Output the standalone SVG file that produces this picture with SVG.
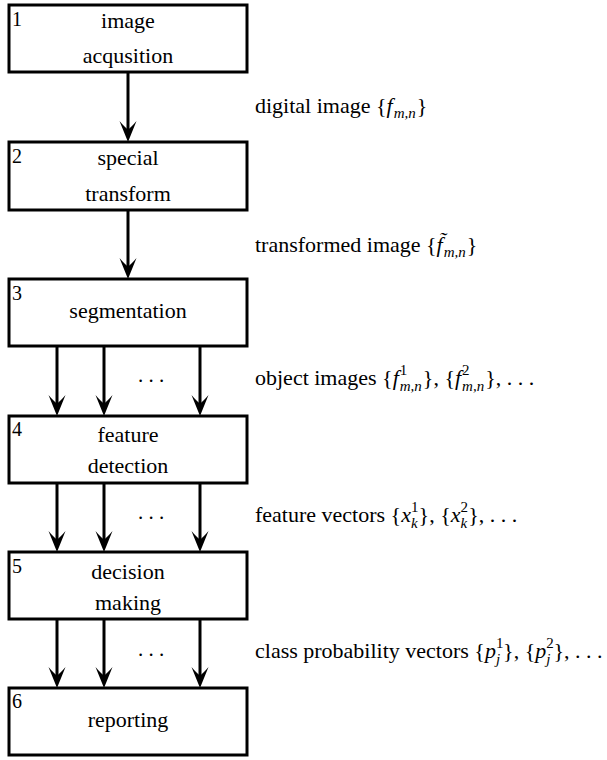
<svg xmlns="http://www.w3.org/2000/svg" xmlns:xlink="http://www.w3.org/1999/xlink" width="607" height="760" viewBox="0 0 607 760" font-family="Liberation Serif, DejaVu Serif, serif">
  <style>
    .box { fill: #ffffff; stroke: #000000; stroke-width: 3; }
    .num { font-size: 20px; }
    .lbl { font-size: 22px; text-anchor: middle; }
    .side { font-size: 22px; }
    .it { font-style: italic; }
    .sc { font-size: 15px; }
    .wire { stroke: #000000; stroke-width: 3; fill: none; }
    .dots { font-size: 21px; text-anchor: middle; }
  </style>
  <defs>
    <!-- concave arrowhead, tip at origin, pointing down -->
    <path id="head" d="M0,0 L-8.5,-21 Q-3,-14.5 0,-12.5 Q3,-14.5 8.5,-21 Z" fill="#000"/>
  </defs>

  <rect width="607" height="760" fill="#ffffff"/>

  <!-- connectors -->
  <g id="connectors">
    <line class="wire" x1="128" y1="72" x2="128" y2="131"/>
    <use xlink:href="#head" x="128" y="142"/>

    <line class="wire" x1="128" y1="210" x2="128" y2="268"/>
    <use xlink:href="#head" x="128" y="279"/>

    <line class="wire" x1="57" y1="346" x2="57" y2="405"/>
    <line class="wire" x1="104" y1="346" x2="104" y2="405"/>
    <line class="wire" x1="200" y1="346" x2="200" y2="405"/>
    <use xlink:href="#head" x="57" y="416"/>
    <use xlink:href="#head" x="104" y="416"/>
    <use xlink:href="#head" x="200" y="416"/>
    <text class="dots" x="151" y="382">. . .</text>

    <line class="wire" x1="57" y1="483" x2="57" y2="541"/>
    <line class="wire" x1="104" y1="483" x2="104" y2="541"/>
    <line class="wire" x1="200" y1="483" x2="200" y2="541"/>
    <use xlink:href="#head" x="57" y="552"/>
    <use xlink:href="#head" x="104" y="552"/>
    <use xlink:href="#head" x="200" y="552"/>
    <text class="dots" x="151" y="519">. . .</text>

    <line class="wire" x1="57" y1="619" x2="57" y2="677"/>
    <line class="wire" x1="104" y1="619" x2="104" y2="677"/>
    <line class="wire" x1="200" y1="619" x2="200" y2="677"/>
    <use xlink:href="#head" x="57" y="688"/>
    <use xlink:href="#head" x="104" y="688"/>
    <use xlink:href="#head" x="200" y="688"/>
    <text class="dots" x="151" y="656">. . .</text>
  </g>

  <!-- stage boxes -->
  <g id="stage1">
    <rect class="box" x="9" y="5" width="238" height="67"/>
    <text class="num" x="12" y="26">1</text>
    <text class="lbl" x="128" y="28">image</text>
    <text class="lbl" x="128" y="63">acqusition</text>
  </g>
  <g id="stage2">
    <rect class="box" x="9" y="142" width="238" height="68"/>
    <text class="num" x="12" y="163">2</text>
    <text class="lbl" x="128" y="165">special</text>
    <text class="lbl" x="128" y="201">transform</text>
  </g>
  <g id="stage3">
    <rect class="box" x="9" y="279" width="238" height="67"/>
    <text class="num" x="12" y="300">3</text>
    <text class="lbl" x="128" y="318">segmentation</text>
  </g>
  <g id="stage4">
    <rect class="box" x="9" y="416" width="238" height="67"/>
    <text class="num" x="12" y="436">4</text>
    <text class="lbl" x="128" y="442">feature</text>
    <text class="lbl" x="128" y="473">detection</text>
  </g>
  <g id="stage5">
    <rect class="box" x="9" y="552" width="238" height="67"/>
    <text class="num" x="12" y="573">5</text>
    <text class="lbl" x="128" y="579">decision</text>
    <text class="lbl" x="128" y="610">making</text>
  </g>
  <g id="stage6">
    <rect class="box" x="9" y="688" width="238" height="67"/>
    <text class="num" x="12" y="708">6</text>
    <text class="lbl" x="128" y="727">reporting</text>
  </g>

  <!-- data passed between stages -->
  <g id="data-labels">
    <text class="side" x="255" y="113">digital image {<tspan class="it">f</tspan><tspan class="sc it" dx="1" dy="5">m,n</tspan><tspan dx="1" dy="-5">}</tspan></text>

    <text class="side" x="255" y="252">transformed image {<tspan class="it">f̃</tspan><tspan class="sc it" dx="1" dy="5">m,n</tspan><tspan dx="1" dy="-5">}</tspan></text>

    <text class="side" x="255" y="385">object images {<tspan class="it">f</tspan><tspan class="sc" dx="1" dy="-10">1</tspan><tspan class="sc it" dx="-7.5" dy="16">m,n</tspan><tspan dx="1" dy="-6">}, {</tspan><tspan class="it">f</tspan><tspan class="sc" dx="1" dy="-10">2</tspan><tspan class="sc it" dx="-7.5" dy="16">m,n</tspan><tspan dx="1" dy="-6">}, . . .</tspan></text>

    <text class="side" x="255" y="522">feature vectors {<tspan class="it">x</tspan><tspan class="sc" dy="-10">1</tspan><tspan class="sc it" dx="-7.5" dy="16">k</tspan><tspan dx="1" dy="-6">}, {</tspan><tspan class="it">x</tspan><tspan class="sc" dy="-10">2</tspan><tspan class="sc it" dx="-7.5" dy="16">k</tspan><tspan dx="1" dy="-6">}, . . .</tspan></text>

    <text class="side" x="255" y="658">class probability vectors {<tspan class="it">p</tspan><tspan class="sc" dy="-10">1</tspan><tspan class="sc it" dx="-7.5" dy="16">j</tspan><tspan dx="3" dy="-6">}, {</tspan><tspan class="it">p</tspan><tspan class="sc" dy="-10">2</tspan><tspan class="sc it" dx="-7.5" dy="16">j</tspan><tspan dx="3" dy="-6">}, . . .</tspan></text>
  </g>
</svg>
